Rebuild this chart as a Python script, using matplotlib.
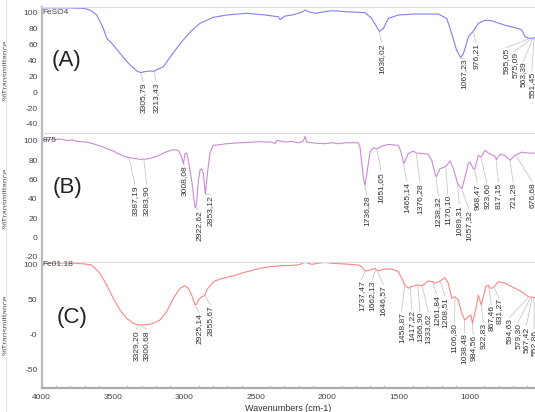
import numpy as np
import matplotlib.pyplot as plt
from matplotlib.lines import Line2D
from matplotlib.ticker import MultipleLocator

plt.rcParams['font.family'] = ['Liberation Sans', 'DejaVu Sans']

# (A) FeSO4
a_wn = [4000, 3900, 3825, 3709, 3662, 3615, 3569, 3545, 3510, 3452, 3382, 3330, 3306, 3265,
        3240, 3213, 3195, 3148, 3098, 3028, 2958, 2892, 2798, 2704, 2564, 2437, 2343, 2331,
        2296, 2250, 2203, 2170, 2156, 2133, 2086, 2016, 1969, 1876, 1736, 1689, 1654, 1636,
        1608, 1573, 1503, 1386, 1223, 1164, 1129, 1094, 1067, 1048, 1013, 976, 943, 896, 849,
        756, 662, 639, 615, 595, 580, 563, 551, 546]
a_t = [105.5, 105.5, 105.5, 105, 103, 96.6, 80, 67.4, 61.2, 48.6, 34, 26, 24.5, 26,
       26.5, 26, 28, 31.8, 44.4, 61.2, 75.7, 86.2, 93.7, 96.6, 98.7, 96.6, 94.4, 91,
       95.3, 96.5, 98.7, 101, 103, 100.8, 98.7, 100.8, 102, 100.8, 99.5, 92.3, 81.6, 76,
       79.6, 92.3, 96.6, 97.8, 97.8, 92.3, 73.2, 51.9, 43.5, 47.7, 68.9, 77, 86, 90.2, 89.3,
       83.8, 79.6, 77.8, 69.4, 67.8, 67.4, 67.6, 68, 68.2]
a_peaks = ["3305,79", "3213,43", "1636,02", "1067,23", "976,21", "595,05", "575,09", "563,39", "551,45"]

# (B) 875
b_wn = [4000, 3919, 3870, 3825, 3780, 3755, 3685, 3639, 3569, 3499, 3429, 3387, 3370, 3312,
        3284, 3265, 3195, 3125, 3078, 3043, 3020, 3008, 2996, 2985, 2973, 2950, 2927, 2922,
        2915, 2903, 2891, 2880, 2868, 2856, 2853, 2840, 2821, 2798, 2704, 2611, 2471, 2436,
        2389, 2366, 2354, 2296, 2249, 2203, 2168, 2156, 2144, 2086, 2016, 1969, 1923, 1876,
        1783, 1771, 1759, 1743, 1736, 1720, 1701, 1678, 1651, 1619, 1573, 1503, 1484, 1465,
        1456, 1433, 1398, 1376, 1328, 1293, 1269, 1246, 1238, 1211, 1188, 1170, 1141, 1118,
        1094, 1089, 1071, 1057, 1036, 1013, 1001, 978, 968, 943, 923, 896, 872, 826, 817,
        791, 756, 721, 686, 639, 593, 546]
b_t = [101.3, 101, 101.8, 100.3, 100.8, 99.3, 98.6, 96.9, 93.4, 89.3, 84.1, 82.5, 82.1, 80.7,
       81, 81, 83.8, 88.7, 90.7, 90, 83.1, 76.3, 86.6, 87.2, 79.7, 59.1, 31.5, 31,
       36.7, 59.1, 69.4, 71.1, 66, 47, 45.4, 66, 88.2, 95.2, 96.9, 97.9, 99, 98.6,
       98.6, 96.9, 100.3, 98.6, 99.3, 97.9, 99.6, 104.4, 98.6, 97.5, 96.9, 97.9, 96.9, 97.9,
       97.9, 93.4, 76.3, 57.3, 53.9, 69.4, 88.2, 92.8, 91.5, 94.4, 96.2, 95.2, 88.2, 76.3,
       79, 86.6, 89.3, 87.2, 86.6, 85.9, 79.7, 66, 62.5, 71.1, 72.2, 73.5, 79, 71.1,
       59.1, 56, 52.2, 50.5, 62.5, 76.3, 77.9, 71.1, 70.5, 84.8, 83.1, 90, 87.2, 83.8, 80.4,
       85.9, 84.8, 79.7, 84.8, 88.2, 87.2, 87.2]
b_peaks = ["3387,19", "3283,90", "3008,08", "2922,62", "2853,12", "1736,28", "1651,05",
           "1465,14", "1376,28", "1238,32", "1170,10", "1089,31", "1057,32", "968,47",
           "923,60", "817,15", "721,29", "676,68"]

# (C) Fe01.18
c_wn = [4000, 3825, 3709, 3650, 3592, 3545, 3499, 3452, 3405, 3359, 3329, 3312, 3300, 3265,
        3218, 3172, 3125, 3078, 3032, 2997, 2973, 2950, 2925, 2915, 2903, 2880, 2863, 2855,
        2845, 2798, 2751, 2658, 2564, 2471, 2401, 2319, 2203, 2156, 2109, 2016, 1969, 1876,
        1783, 1759, 1737, 1701, 1666, 1662, 1646, 1596, 1549, 1503, 1479, 1459, 1433, 1417,
        1367, 1334, 1293, 1262, 1246, 1211, 1176, 1153, 1129, 1106, 1083, 1059, 1038, 1013,
        995, 984, 954, 943, 922, 891, 872, 867, 849, 831, 803, 756, 709, 639, 593, 546]
c_t = [102.5, 102.5, 101.5, 99.7, 87.8, 70.9, 51.8, 35, 23, 15.8, 13.8, 13.4, 13.5, 13.6,
       15.8, 20.6, 32.5, 51.8, 66.2, 69.9, 66.2, 56.5, 42.2, 43.5, 49.4, 54.1, 55.5, 57,
       63.7, 75.7, 79.6, 84.3, 90.1, 95, 97.3, 98.7, 99.7, 103.6, 100.7, 103.6, 102.2, 101.2,
       99.7, 97.3, 91.1, 92.5, 95, 93.5, 91.1, 94, 94, 90.1, 80.6, 71.5, 66.2, 68.5,
       70.9, 69.9, 76.7, 75.7, 73.4, 76.7, 81.4, 73.4, 51.8, 54.1, 49.4, 30.2, 20.6, 25.3,
       27.8, 15.8, 42.2, 56.5, 42.2, 68.5, 70.9, 67, 66.2, 68.5, 75.7, 73.4, 68.5, 61.3, 54.1, 52.7]
c_peaks = ["3329,20", "3300,68", "2925,14", "2855,67", "1737,47", "1662,13", "1646,57",
           "1458,87", "1417,22", "1366,90", "1333,62", "1261,84", "1208,51", "1106,30",
           "1038,48", "984,56", "922,83", "867,46", "831,27", "594,63", "579,30", "567,42", "552,86"]

# label placement (text x in cm-1, top of text in %T)
a_tx = [3289, 3200, 1619, 1043, 961, 746, 686, 627, 569]
a_top = [12.7, 12.7, 61.5, 42, 61.5, 54.9, 50.6, 38.1, 25.6]
b_tx = [3347, 3265, 3001, 2898, 2821, 1724, 1624, 1444, 1351, 1223, 1157, 1076, 1008,
        950, 884, 802, 698, 569]
b_top = [53.9, 53.9, 75, 28, 43.6, 43.6, 67.6, 57.3, 55.7, 41.9, 43.6, 33.3, 28.1,
         55.7, 55.7, 56, 56, 57.3]
c_tx = [3335, 3265, 2898, 2821, 1761, 1686, 1609, 1480, 1410, 1351, 1293, 1235, 1176,
        1111, 1041, 978, 908, 852, 800, 724, 665, 607, 552]
c_top = [6.2, 6.2, 30.2, 42.2, 78.1, 78.1, 70.9, 32.5, 35, 32.5, 30.2, 56.5, 54.1,
         15.8, 1.4, -1, 15.8, 42.2, 51.8, 23, 15.8, 10.9, 6.2]

W, H = 535, 412
L = 41.7
fig = plt.figure(figsize=(W / 100, H / 100), dpi=100)


def panel(top, bottom, wn, t, color, ylim, yt, ytl, name, letter, let_xy,
          peaks, tx, tops):
    ax = fig.add_axes([L / W, 1 - bottom / H, 1 - L / W, (bottom - top) / H])
    ax.plot(wn, t, color=color, lw=0.8)
    ax.set_xlim(4000, 546)
    ax.set_ylim(*ylim)
    ax.set_yticks(yt)
    ax.set_yticklabels(ytl)
    ax.tick_params(axis='y', length=0, pad=3, labelsize=6, labelcolor='#444444')
    for s in ['right', 'bottom']:
        ax.spines[s].set_visible(False)
    ax.spines['top'].set_color('#dddddd')
    ax.spines['top'].set_linewidth(0.8)
    ax.spines['left'].set_color('#bbbbbb')
    ax.spines['left'].set_linewidth(1.6)
    ax.set_xticks([])
    ax.text(3995, yt[0], name, fontsize=6, color='#444444', ha='left', va='center')
    ax.text(let_xy[0], let_xy[1], letter, fontsize=16, color='#222222', ha='left', va='center')
    ax.set_ylabel('%Transmittance', fontsize=6, color='#555555')
    ax.yaxis.set_label_coords(-(L - 10) / (W - L), 0.5)
    xs = np.array(wn)[::-1]
    ys = np.array(t)[::-1]
    for lab, x2, y2 in zip(peaks, tx, tops):
        p = float(lab.replace(',', '.'))
        y1 = np.interp(p, xs, ys) - 1.5
        ax.add_line(Line2D([p, x2], [y1, y2 + 1], color='#c8c8c8', lw=0.6))
        ax.text(x2, y2, lab, rotation=90, fontsize=6.1, color='#333333',
                ha='center', va='top', clip_on=True)
    return ax


ax_a = panel(6.7, 133, a_wn, a_t, '#8080f2', (-51.3, 107), [100, 80, 60, 40, 20, 0, -20, -40],
             ['100', '80', '60', '40', '20', '0', '-20', '-40'], 'FeSO4', '(A)', (3930, 40),
             a_peaks, a_tx, a_top)
ax_b = panel(133, 261.7, b_wn, b_t, '#c98ad8', (-25.2, 108), [100, 80, 60, 40, 20, 0, -20],
             ['100', '80', '60', '40', '20', '0', '-20'], '875', '(B)', (3925, 52),
             b_peaks, b_tx, b_top)
ax_c = panel(261.7, 388.3, c_wn, c_t, '#ff8585', (-77.7, 104.5), [100, 50, 0, -50],
             ['100', '50', '-0', '-50'], 'Fe01.18', '(C)', (3893, 23.5),
             c_peaks, c_tx, c_top)

ax_c.spines['bottom'].set_visible(True)
ax_c.spines['bottom'].set_color('#aaaaaa')
ax_c.spines['bottom'].set_linewidth(1.6)
ax_c.set_xticks([4000, 3500, 3000, 2500, 2000, 1500, 1000])
ax_c.xaxis.set_minor_locator(MultipleLocator(100))
ax_c.tick_params(axis='x', which='major', length=0, pad=4, labelsize=6, labelcolor='#444444')
ax_c.tick_params(axis='x', which='minor', direction='in', length=2, color='#bbbbbb')
ax_c.set_xlabel('Wavenumbers (cm-1)', fontsize=6.5, color='#333333', labelpad=2)

fig.add_artist(Line2D([6 / W, 6 / W], [0, 1], color='#e6e6e6', lw=0.8))

fig.savefig('out.png', dpi=100)
